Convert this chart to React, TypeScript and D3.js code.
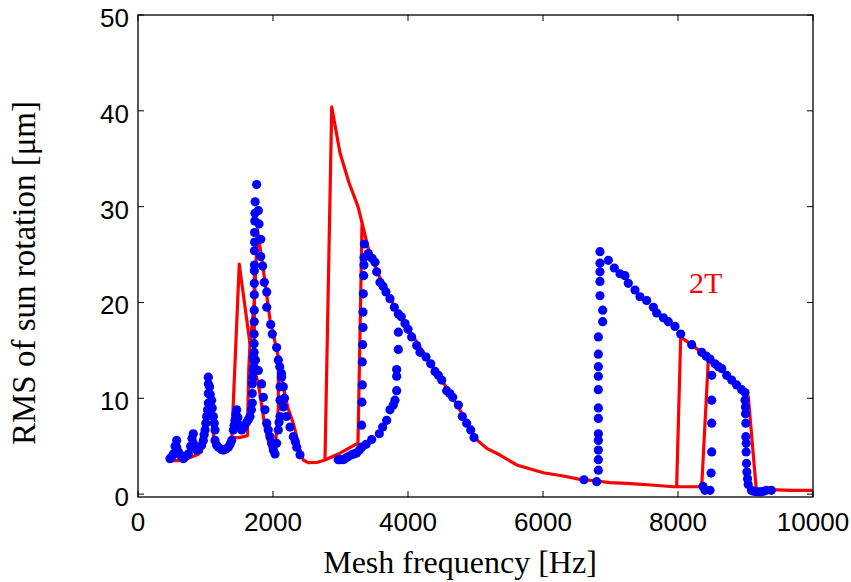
import React from "react";
import * as d3 from "d3";

// axis ticks
const xTicks = [0, 2000, 4000, 6000, 8000, 10000];
const yTicks = [0, 10, 20, 30, 40, 50];

// red curve, main sweep [Hz, um]
const redSweep: [number, number][] = [
  [500, 3.5], [600, 3.5], [700, 3.6], [800, 3.9], [874, 4.1], [940, 4.4], [975, 6.5],
  [1040, 9.5], [1090, 8], [1130, 5.5], [1215, 4.4], [1300, 4.6], [1390, 5.9], [1500, 5.9],
  [1620, 6.1], [1640, 12.9], [1659, 15.7], [1723, 20], [1770, 27.6], [1857, 23.4],
  [1956, 18.2], [2079, 14.3], [2150, 11.3], [2220, 9.0], [2301, 7.4], [2400, 4.6],
  [2449, 3.56], [2519, 3.28], [2650, 3.3], [2770, 3.56], [3000, 4.3], [3259, 5.33],
  [3319, 28.3], [3420, 25.4], [3600, 22.3], [3800, 19.6], [4000, 17.3], [4200, 15.1],
  [4400, 13.0], [4600, 10.8], [4800, 8.4], [4993, 5.82], [5166, 4.78], [5363, 4.08],
  [5610, 3.04], [6005, 2.23], [6301, 1.89], [6548, 1.54], [6795, 1.37], [6993, 1.2],
  [7240, 1.13], [7600, 0.95], [7930, 0.77], [7980, 0.77], [8040, 16.4], [8200, 15.6],
  [8474, 14.1], [8700, 12.7], [8900, 11.2], [9041, 10.2], [9160, 0.45], [9462, 0.45],
  [9700, 0.4], [10000, 0.4],
];
// red branches
const redFoldLow: [number, number][] = [[1659, 15.7], [1500, 24.0], [1390, 5.9]];
const redFoldMid: [number, number][] = [
  [3319, 28.3], [3259, 30.0], [3126, 32.5], [2993, 35.6], [2870, 40.4], [2770, 3.56],
];
const redFoldHigh: [number, number][] = [[7980, 0.77], [8351, 0.77], [8449, 14.0]];
const redDip: [number, number][] = [
  [1723, 24], [1723, 13], [1783, 11.5], [1881, 7], [1956, 4.8], [2030, 4.5], [2079, 9], [2079, 14.3],
];

// blue dots
const blueLow: [number, number][] = [
  [474, 3.7], [500, 3.9], [523, 4.2], [550, 5.0], [573, 5.6], [573, 4.9], [600, 4.4], [622, 4.1],
  [650, 3.9], [671, 3.7], [700, 3.9], [745, 4.2], [780, 5.0], [800, 5.8], [819, 6.3], [819, 5.3],
  [840, 4.8], [869, 4.6], [900, 4.7], [943, 5.1], [968, 5.6], [980, 6.2], [993, 6.7], [1005, 7.4],
  [1017, 8.1], [1030, 8.8], [1042, 9.5], [1042, 10.5], [1042, 11.5], [1042, 12.2], [1060, 11.2],
  [1070, 10.4], [1091, 9.8], [1100, 9.0], [1116, 8.1], [1130, 7.4], [1141, 6.7], [1141, 5.6],
  [1165, 5.1], [1190, 4.9], [1230, 4.7], [1264, 4.6], [1300, 4.7], [1338, 4.9], [1365, 5.2],
  [1388, 5.6], [1412, 6.7], [1425, 7.2], [1437, 7.7], [1450, 8.3], [1462, 8.8], [1480, 8.0],
  [1500, 7.2], [1536, 6.7], [1570, 7.0], [1610, 7.5], [1635, 7.8], [1659, 8.1], [1680, 8.8],
  [1693, 9.5], [1693, 10.5], [1693, 11.5], [1700, 12.2], [1708, 12.9], [1708, 14.3],
];
const bluePeak: [number, number][] = [
  [1718, 13.3], [1718, 14.0], [1720, 14.8], [1720, 15.7], [1720, 16.7], [1722, 18.0], [1722, 19.2],
  [1723, 20.8], [1723, 22.0], [1723, 23.3], [1725, 23.9], [1725, 25.4], [1727, 26.3], [1727, 27.3],
  [1730, 28.5], [1733, 29.3], [1735, 30.5], [1758, 32.3],
  [1783, 29.6], [1793, 28.2], [1818, 26.6], [1818, 24.8], [1847, 23.8], [1871, 22.1], [1907, 21.1],
  [1907, 19.5], [1966, 17.7], [1990, 16.7], [2054, 15.3], [2079, 14.0], [2100, 13.3], [2126, 12.6],
  [2153, 11.2], [2170, 10.0], [2153, 9.1], [2200, 8.1], [2252, 7.0], [2301, 6.0], [2330, 5.5],
  [2351, 4.9], [2400, 4.1],
  [1740, 14], [1783, 12.9], [1832, 11.5], [1857, 10.1], [1881, 8.8], [1907, 7.4], [1930, 6.7],
  [1956, 6.0], [1980, 5.3], [2005, 4.6], [2030, 4.2], [2054, 5.3], [2079, 6.7], [2090, 7.5],
  [2104, 8.1], [2104, 9.8], [2104, 11.2], [2126, 12.2],
];
const blueMid: [number, number][] = [
  [2967, 3.6], [2993, 3.6], [3042, 3.6], [3067, 3.7], [3110, 3.9], [3165, 4.1], [3200, 4.2],
  [3239, 4.3], [3280, 4.6], [3313, 4.9],
  [3313, 7.2], [3318, 9.6], [3323, 11.4], [3323, 13.8], [3328, 15.6], [3333, 17.4], [3333, 19.0],
  [3338, 20.9], [3343, 22.8], [3348, 23.9], [3348, 24.7], [3353, 26.1],
  [3412, 25.1], [3470, 24.6], [3511, 24.2], [3536, 23.2], [3585, 22.1], [3630, 21.7], [3674, 21.1],
  [3733, 20.4], [3797, 19.5], [3857, 18.8], [3900, 18.5], [3956, 17.8], [4000, 17.2], [4054, 16.4],
  [4128, 15.5], [4178, 14.8], [4267, 14.3], [4336, 13.6], [4400, 12.8], [4450, 12.4], [4499, 11.9],
  [4573, 10.8], [4620, 10.5], [4662, 10.1], [4746, 9.3], [4805, 8.1], [4869, 7.4], [4929, 6.7],
  [4978, 5.9],
  [3857, 16.9], [3857, 15.1], [3832, 13.0], [3832, 12.3], [3832, 10.8], [3807, 9.8], [3782, 9.3],
  [3733, 8.8], [3684, 7.7], [3625, 7.0], [3575, 6.3], [3462, 5.7], [3380, 5.2],
];
const blueHigh: [number, number][] = [
  [6607, 1.5], [6795, 1.3],
  [6820, 2.5], [6820, 3.6], [6820, 4.6], [6820, 5.6], [6820, 6.3], [6820, 7.9], [6820, 9.0],
  [6820, 10.9], [6820, 12.3], [6820, 13.3], [6820, 14.6], [6820, 16.4], [6884, 18.0], [6884, 19.2],
  [6844, 20.7], [6844, 22.2], [6844, 23.2], [6844, 24.1], [6844, 25.3],
  [6968, 24.4], [7057, 23.6], [7141, 23.0], [7215, 22.8], [7264, 22.0], [7363, 21.3], [7437, 20.6],
  [7536, 20.2], [7635, 19.5], [7684, 18.9], [7783, 18.4], [7857, 18.0], [7956, 17.5], [8040, 16.7],
  [8203, 15.6], [8351, 14.8], [8420, 14.4], [8474, 14.1], [8548, 13.6], [8600, 13.3], [8647, 13.1],
  [8721, 12.4], [8795, 11.9], [8869, 11.4], [8943, 10.9], [8993, 10.6],
  [8993, 9.8], [9000, 9.1], [9000, 8.4], [9005, 7.4], [9005, 6.0], [9010, 5.3], [9010, 4.4],
  [9015, 3.2], [9020, 2.3], [9030, 1.6], [9040, 1.0],
  [9088, 0.4], [9120, 0.3], [9160, 0.25], [9200, 0.25], [9235, 0.25], [9270, 0.3], [9309, 0.4],
  [9383, 0.4],
  [8499, 12.4], [8499, 9.8], [8499, 7.4], [8499, 4.4], [8490, 2.2], [8370, 0.8], [8400, 0.4],
  [8474, 0.4],
];

export default function App() {
  const width = 851;
  const height = 582;

  //scales
  const x = d3.scaleLinear().domain([0, 10000]).range([138, 813]);
  const y = d3.scaleLinear().domain([-0.3, 50]).range([497, 15]);
  const line = d3
    .line<[number, number]>()
    .x((d) => x(d[0]))
    .y((d) => y(d[1]));

  const redLines = [redSweep, redFoldLow, redFoldMid, redFoldHigh, redDip];
  const dots = [...blueLow, ...bluePeak, ...blueMid, ...blueHigh];

  const sans = "Liberation Sans, Arial, sans-serif";
  const serif = "Liberation Serif, Times New Roman, serif";
  const [x0, x1] = x.range();
  const [y0, y1] = y.range();
  const tick = 6;

  return (
    <svg
      width={width}
      height={height}
      style={{ position: "absolute", left: 0, top: 0, background: "#fff" }}
    >
      {redLines.map((l, i) => (
        <path
          key={i}
          d={line(l) || ""}
          fill="none"
          stroke="#ff0000"
          strokeWidth={3.2}
          strokeLinejoin="round"
        />
      ))}
      {dots.map((d, i) => (
        <circle key={i} cx={x(d[0])} cy={y(d[1])} r={4.6} fill="#0000ff" />
      ))}

      {/* frame */}
      <rect x={x0} y={y1} width={x1 - x0} height={y0 - y1} fill="none" stroke="#000" strokeWidth={1.3} />

      {/* x ticks */}
      {xTicks.map((t) => (
        <g key={"x" + t}>
          <line x1={x(t)} x2={x(t)} y1={y0} y2={y0 - tick} stroke="#000" />
          <line x1={x(t)} x2={x(t)} y1={y1} y2={y1 + tick} stroke="#000" />
          <text
            x={x(t)}
            y={522}
            textAnchor="middle"
            dominantBaseline="central"
            fontFamily={sans}
            fontSize={26}
          >
            {t}
          </text>
        </g>
      ))}

      {/* y ticks */}
      {yTicks.map((t) => (
        <g key={"y" + t}>
          <line x1={x0} x2={x0 + tick} y1={y(t)} y2={y(t)} stroke="#000" />
          <line x1={x1} x2={x1 - tick} y1={y(t)} y2={y(t)} stroke="#000" />
          <text
            x={129}
            y={y(t) + 3}
            textAnchor="end"
            dominantBaseline="central"
            fontFamily={sans}
            fontSize={26}
          >
            {t}
          </text>
        </g>
      ))}

      <text x={460} y={573} textAnchor="middle" fontFamily={serif} fontSize={32}>
        Mesh frequency [Hz]
      </text>
      <text
        transform="translate(35,273) rotate(-90)"
        textAnchor="middle"
        fontFamily={serif}
        fontSize={33}
      >
        RMS of sun rotation [μm]
      </text>
      <text x={689} y={293} fontFamily={serif} fontSize={30} fill="#ff0000">
        2T
      </text>
    </svg>
  );
}
